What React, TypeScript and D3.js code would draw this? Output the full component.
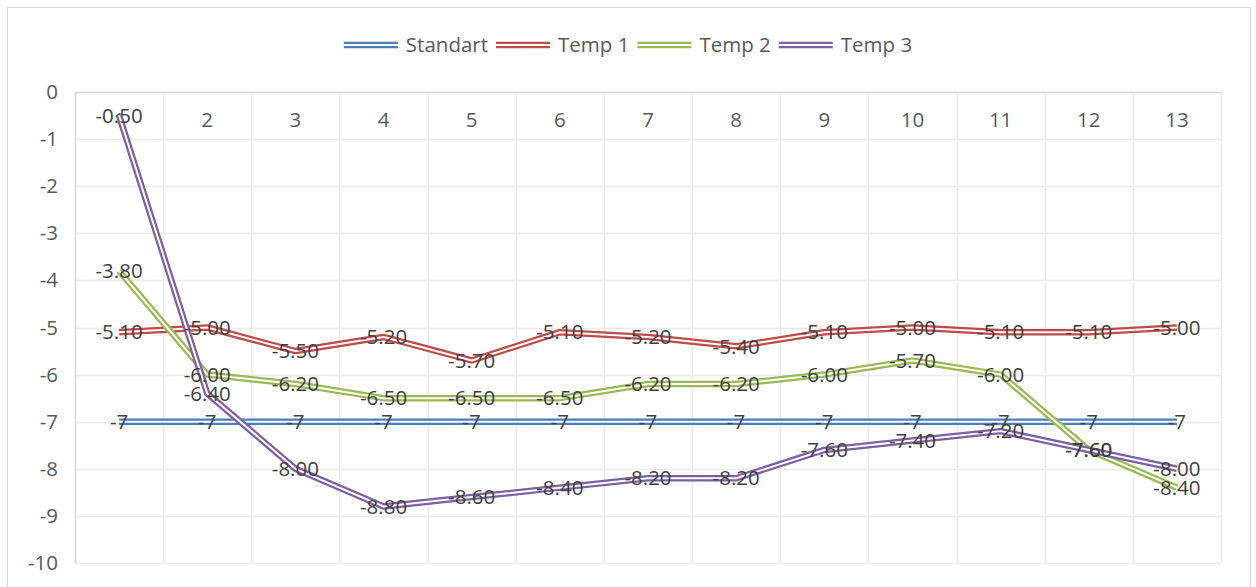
import { useEffect, useRef } from "react";
import * as d3 from "d3";

const categories = ["1", "2", "3", "4", "5", "6", "7", "8", "9", "10", "11", "12", "13"];
const standart = [-7, -7, -7, -7, -7, -7, -7, -7, -7, -7, -7, -7, -7];
const temp1 = [-5.1, -5.0, -5.5, -5.2, -5.7, -5.1, -5.2, -5.4, -5.1, -5.0, -5.1, -5.1, -5.0];
const temp2 = [-3.8, -6.0, -6.2, -6.5, -6.5, -6.5, -6.2, -6.2, -6.0, -5.7, -6.0, -7.6, -8.4];
const temp3 = [-0.5, -6.4, -8.0, -8.8, -8.6, -8.4, -8.2, -8.2, -7.6, -7.4, -7.2, -7.6, -8.0];
const yTicks = [0, -1, -2, -3, -4, -5, -6, -7, -8, -9, -10];

const series = [
  { name: "Standart", values: standart, color: "#4a7ebb", fmt: (v: number) => `${v}` },
  { name: "Temp 1", values: temp1, color: "#be4b48", fmt: (v: number) => v.toFixed(2) },
  { name: "Temp 2", values: temp2, color: "#98b954", fmt: (v: number) => v.toFixed(2) },
  { name: "Temp 3", values: temp3, color: "#7d60a0", fmt: (v: number) => v.toFixed(2) },
];

const W = 1256;
const H = 587;
const FONT = "Open Sans, sans-serif";
const FS = 20.5;

const App = () => {
  const svgRef = useRef<SVGSVGElement | null>(null);

  useEffect(() => {
    const margin = { top: 92, right: 35, bottom: 24, left: 75 };
    const svg = d3.select(svgRef.current);
    svg.selectAll("*").remove();

    svg.append("rect").attr("width", W).attr("height", H).attr("fill", "white");
    // outer chart border
    svg
      .append("rect")
      .attr("x", 7.5)
      .attr("y", 7.5)
      .attr("width", 1243)
      .attr("height", H)
      .attr("fill", "none")
      .attr("stroke", "#d9d9d9");

    const x = d3
      .scaleBand()
      .domain(categories)
      .range([margin.left, W - margin.right])
      .paddingInner(0)
      .paddingOuter(0);

    const y = d3
      .scaleLinear()
      .domain([-10, 0])
      .range([H - margin.bottom, margin.top]);

    // grid
    const grid = svg.append("g").attr("stroke", "#ebebeb").attr("stroke-width", 1.5);
    grid
      .selectAll("line.h")
      .data(yTicks)
      .join("line")
      .attr("x1", margin.left)
      .attr("x2", W - margin.right)
      .attr("y1", (d) => Math.round(y(d)) + 0.5)
      .attr("y2", (d) => Math.round(y(d)) + 0.5);
    grid
      .selectAll("line.v")
      .data([...categories.map((c) => x(c) ?? 0), W - margin.right])
      .join("line")
      .attr("x1", (d) => Math.round(d) + 0.5)
      .attr("x2", (d) => Math.round(d) + 0.5)
      .attr("y1", margin.top)
      .attr("y2", H - margin.bottom);

    // y axis
    const yAxis = svg
      .append("g")
      .attr("transform", `translate(${margin.left},0)`)
      .call(
        d3
          .axisLeft(y)
          .tickValues(yTicks)
          .tickSize(0)
          .tickPadding(17)
          .tickFormat((d) => String(d)),
      );
    yAxis.select(".domain").attr("stroke", "#d9d9d9").attr("stroke-width", 1.5);
    yAxis
      .selectAll("text")
      .attr("fill", "#595959")
      .attr("font-size", FS)
      .attr("font-family", FONT);

    // x axis at top (0 line)
    const xAxis = svg
      .append("g")
      .attr("transform", `translate(0,${y(0)})`)
      .call(d3.axisBottom(x).tickSize(0).tickPadding(20));
    xAxis.select(".domain").attr("stroke", "#d9d9d9").attr("stroke-width", 1.5);
    xAxis
      .selectAll("text")
      .attr("fill", "#595959")
      .attr("font-size", FS)
      .attr("font-family", FONT);

    const line = d3
      .line<number>()
      .x((_, i) => (x(categories[i]) ?? 0) + x.bandwidth() / 2)
      .y((d) => y(d));

    // double lines: colored wide stroke with white core
    series.forEach((s) => {
      const g = svg.append("g");
      g.append("path")
        .datum(s.values)
        .attr("d", line)
        .attr("fill", "none")
        .attr("stroke", s.color)
        .attr("stroke-width", 6.5)
        .attr("stroke-linejoin", "round");
      g.append("path")
        .datum(s.values)
        .attr("d", line)
        .attr("fill", "none")
        .attr("stroke", "white")
        .attr("stroke-width", 2)
        .attr("stroke-linejoin", "round");
    });

    // data labels
    series.forEach((s) => {
      svg
        .append("g")
        .selectAll("text")
        .data(s.values)
        .join("text")
        .attr("x", (_, i) => (x(categories[i]) ?? 0) + x.bandwidth() / 2)
        .attr("y", (d) => y(d))
        .attr("dy", "0.35em")
        .attr("text-anchor", "middle")
        .attr("font-size", FS)
        .attr("font-family", FONT)
        .attr("fill", "#404040")
        .text((d) => s.fmt(d));
    });

    // legend
    const legend = svg.append("g");
    const items = legend
      .selectAll("g")
      .data(series)
      .join("g");
    let offset = 0;
    items.each(function (s) {
      const g = d3.select(this);
      g.attr("transform", `translate(${offset},0)`);
      g.append("line").attr("x1", 0).attr("x2", 54).attr("y1", 0).attr("y2", 0)
        .attr("stroke", s.color).attr("stroke-width", 6.5);
      g.append("line").attr("x1", 0).attr("x2", 54).attr("y1", 0).attr("y2", 0)
        .attr("stroke", "white").attr("stroke-width", 2);
      const t = g
        .append("text")
        .attr("x", 62)
        .attr("dy", "0.35em")
        .attr("font-size", FS)
        .attr("font-family", FONT)
        .attr("fill", "#595959")
        .text(s.name);
      const tw = (t.node() as SVGTextElement).getComputedTextLength();
      offset += 62 + tw + 8;
    });
    const total = offset - 8;
    legend.attr("transform", `translate(${(W - total) / 2},45)`);
  }, []);

  return (
    <svg
      ref={svgRef}
      width={W}
      height={H}
      style={{ position: "absolute", left: 0, top: 0, display: "block" }}
    />
  );
};

export default App;
